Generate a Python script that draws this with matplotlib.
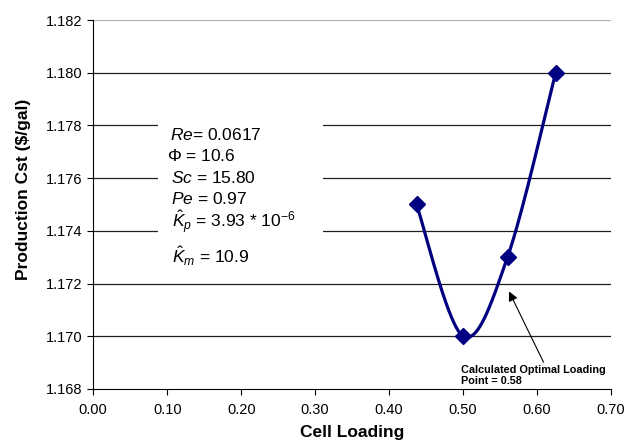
"""Production cost vs cell loading chart."""

import matplotlib

matplotlib.use("Agg")
import matplotlib.pyplot as plt
import numpy as np
from matplotlib.patches import Rectangle

plt.rcParams["font.family"] = ["Liberation Sans", "DejaVu Sans"]
plt.rcParams["mathtext.fontset"] = "custom"
plt.rcParams["mathtext.rm"] = "Liberation Sans"
plt.rcParams["mathtext.it"] = "Liberation Sans:italic"

cell_loading = [0.437, 0.50, 0.56, 0.625]
production_cost = [1.175, 1.170, 1.173, 1.180]

x_ticks = [0.00, 0.10, 0.20, 0.30, 0.40, 0.50, 0.60, 0.70]
y_ticks = [1.168, 1.170, 1.172, 1.174, 1.176, 1.178, 1.180, 1.182]

params = [
    r"$\mathit{Re}$= 0.0617",
    r"$\Phi$ = 10.6",
    r"$\mathit{Sc}$ = 15.80",
    r"$\mathit{Pe}$ = 0.97",
    r"$\hat{K}_p$ = 3.93 * 10$^{-6}$",
    r"$\hat{K}_m$ = 10.9",
]
param_x = [0.104, 0.100, 0.105, 0.105, 0.106, 0.106]
param_y = [1.17764, 1.17684, 1.17601, 1.17521, 1.17434, 1.17305]

annotation = "Calculated Optimal Loading\nPoint = 0.58"


def smooth_curve(xs, ys, sx, sy, n=60):
    """Excel-like smoothed line (Catmull-Rom Bezier in scaled space)."""
    pts = np.column_stack([np.asarray(xs) * sx, np.asarray(ys) * sy])
    out = []
    for i in range(len(pts) - 1):
        p0 = pts[max(i - 1, 0)]
        p1 = pts[i]
        p2 = pts[i + 1]
        p3 = pts[min(i + 2, len(pts) - 1)]
        c1 = p1 + (p2 - p0) / 6
        c2 = p2 - (p3 - p1) / 6
        t = np.linspace(0, 1, n)[:, None]
        seg = ((1 - t) ** 3) * p1 + 3 * ((1 - t) ** 2) * t * c1 + 3 * (1 - t) * t ** 2 * c2 + t ** 3 * p2
        out.append(seg)
    curve = np.vstack(out)
    return curve[:, 0] / sx, curve[:, 1] / sy


fig = plt.figure(figsize=(6.3, 4.46), dpi=100)
ax = fig.add_axes([0.148, 0.128, 0.822, 0.827])

ax.set_xlim(x_ticks[0], x_ticks[-1])
ax.set_ylim(y_ticks[0], y_ticks[-1])
ax.set_xticks(x_ticks)
ax.set_yticks(y_ticks)
ax.set_xticklabels([f"{v:.2f}" for v in x_ticks])
ax.set_yticklabels([f"{v:.3f}" for v in y_ticks])
ax.tick_params(direction="out", length=4, labelsize=10.5, width=0.8)
ax.tick_params(axis="x", pad=6)

for v in y_ticks[1:]:
    ax.axhline(v, color="#202020" if v != y_ticks[-1] else "#b0b0b0", linewidth=0.9, zorder=1)

for side in ["top", "right"]:
    ax.spines[side].set_visible(False)

# white box behind the parameter list
ax.add_patch(Rectangle((0.088, 1.1727), 0.223, 0.0058, facecolor="white",
                       edgecolor="none", zorder=2))
for label, px, py in zip(params, param_x, param_y):
    ax.text(px, py, label, fontsize=12.5, va="center", ha="left", zorder=5)

# scale so the spline is built in (roughly) pixel space
sx = 518 / (x_ticks[-1] - x_ticks[0])
sy = 369 / (y_ticks[-1] - y_ticks[0])
cx, cy = smooth_curve(cell_loading, production_cost, sx, sy)
ax.plot(cx, cy, color="#000080", linewidth=2.3, zorder=3)
ax.plot(cell_loading, production_cost, linestyle="none", marker="D", markersize=8.5,
        color="#000080", zorder=4)

ax.annotate(annotation, xy=(0.562, 1.1717), xytext=(0.497, 1.16812),
            fontsize=7.8, fontweight="bold", ha="left", va="bottom",
            linespacing=1.1,
            arrowprops=dict(arrowstyle="-|>", color="black", lw=0.8,
                            mutation_scale=14, shrinkA=0, shrinkB=0,
                            relpos=(0.58, 1.0)),
            zorder=5)

ax.set_xlabel("Cell Loading", fontsize=12.5, fontweight="bold", labelpad=4)
ax.set_ylabel("Production Cst ($/gal)", fontsize=12.5, fontweight="bold")
ax.yaxis.set_label_coords(-0.12, 0.54)
ax.xaxis.set_label_coords(0.5, -0.097)

fig.savefig("out.png", dpi=100)
